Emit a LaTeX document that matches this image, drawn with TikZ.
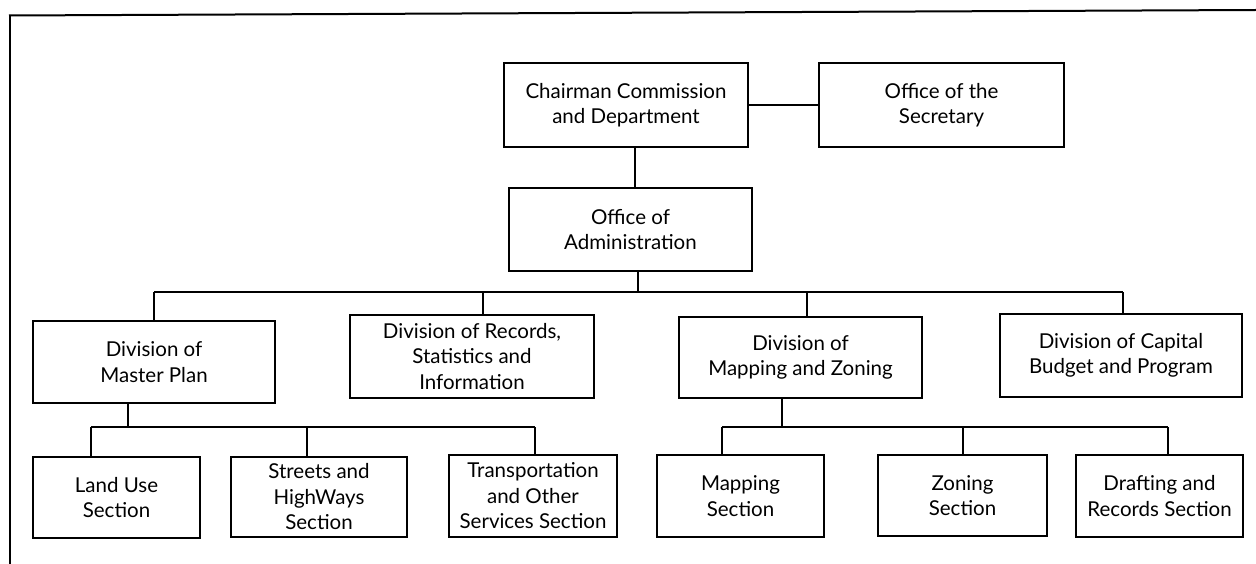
\documentclass[tikz,border=0pt]{standalone}
\usepackage{fontspec}
\setmainfont{Lato}
\begin{document}
\begin{tikzpicture}[x=1pt,y=-1pt,
  box/.style={draw, line width=2.6pt, inner sep=0pt, align=center,
    font=\fontsize{20.5}{25.5}\selectfont},
  link/.style={line width=2.2pt},
  frame/.style={line width=2pt}]
\useasboundingbox (0,0) rectangle (1256,564);
% frame
\coordinate (f1) at (9,15.5);
\coordinate (f2) at (1256,10);
\coordinate (f3) at (10,564);
\draw[frame] (f1) -- (f2);
\draw[frame] (10,15.5) -- (f3);
% boxes
\node[box, minimum width=244pt, minimum height=84pt] (chair) at (626,105) {Chairman Commission\\and Department};
\node[box, minimum width=245pt, minimum height=84pt] (sec) at (941.5,105) {Office of the\\Secretary};
\node[box, minimum width=243pt, minimum height=83pt] (admin) at (630.5,229.5) {Office of\\Administration};
\node[box, minimum width=242pt, minimum height=82pt] (master) at (154,362) {Division of\\Master Plan};
\node[box, minimum width=244pt, minimum height=83pt] (records) at (472,356.5) {Division of Records,\\Statistics and\\Information};
\node[box, minimum width=243pt, minimum height=81pt] (mapdiv) at (800.5,357.5) {Division of\\Mapping and Zoning};
\node[box, minimum width=242pt, minimum height=83pt] (capital) at (1121,355.5) {Division of Capital\\Budget and Program};
\node[box, minimum width=167pt, minimum height=81pt] (landuse) at (116.5,497.5) {Land Use\\Section};
\node[box, minimum width=176pt, minimum height=80pt] (streets) at (319,497) {Streets and\\HighWays\\Section};
\node[box, minimum width=168pt, minimum height=82pt] (transp) at (533,496) {Transportation\\and Other\\Services Section};
\node[box, minimum width=167pt, minimum height=82pt] (mapsec) at (740.5,496) {Mapping\\Section};
\node[box, minimum width=169pt, minimum height=81pt] (zoning) at (962.5,495.5) {Zoning\\Section};
\node[box, minimum width=167pt, minimum height=82pt] (drafting) at (1159.5,496) {Drafting and\\Records Section};
% bus coordinates
\coordinate (bus) at (0,292);
\coordinate (subbus) at (0,427);
% top connectors
\draw[link] (chair.east) -- (sec.west);
\draw[link] ([xshift=4.5pt]admin.north) -- ([xshift=4.5pt]admin.north |- chair.south);
\draw[link] ([xshift=7.5pt]admin.south) -- ([xshift=7.5pt]admin.south |- bus);
% main bus
\draw[link] (master.north |- bus) -- ([xshift=2pt]capital.north |- bus);
\draw[link] (master.north) -- (master.north |- bus);
\draw[link] ([xshift=11pt]records.north) -- ([xshift=11pt]records.north |- bus);
\draw[link] ([xshift=6.5pt]mapdiv.north) -- ([xshift=6.5pt]mapdiv.north |- bus);
\draw[link] ([xshift=2pt]capital.north) -- ([xshift=2pt]capital.north |- bus);
% master plan sub-bus
\draw[link] ([xshift=-26pt]master.south) -- ([xshift=-26pt]master.south |- subbus);
\draw[link] ([xshift=-25.5pt]landuse.north |- subbus) -- ([xshift=2pt]transp.north |- subbus);
\draw[link] ([xshift=-25.5pt]landuse.north) -- ([xshift=-25.5pt]landuse.north |- subbus);
\draw[link] ([xshift=-12pt]streets.north) -- ([xshift=-12pt]streets.north |- subbus);
\draw[link] ([xshift=2pt]transp.north) -- ([xshift=2pt]transp.north |- subbus);
% mapping sub-bus
\draw[link] ([xshift=-18.5pt]mapdiv.south) -- ([xshift=-18.5pt]mapdiv.south |- subbus);
\draw[link] ([xshift=-18.5pt]mapsec.north |- subbus) -- ([xshift=8.5pt]drafting.north |- subbus);
\draw[link] ([xshift=-18.5pt]mapsec.north) -- ([xshift=-18.5pt]mapsec.north |- subbus);
\draw[link] ([xshift=0.5pt]zoning.north) -- ([xshift=0.5pt]zoning.north |- subbus);
\draw[link] ([xshift=8.5pt]drafting.north) -- ([xshift=8.5pt]drafting.north |- subbus);
\end{tikzpicture}
\end{document}
